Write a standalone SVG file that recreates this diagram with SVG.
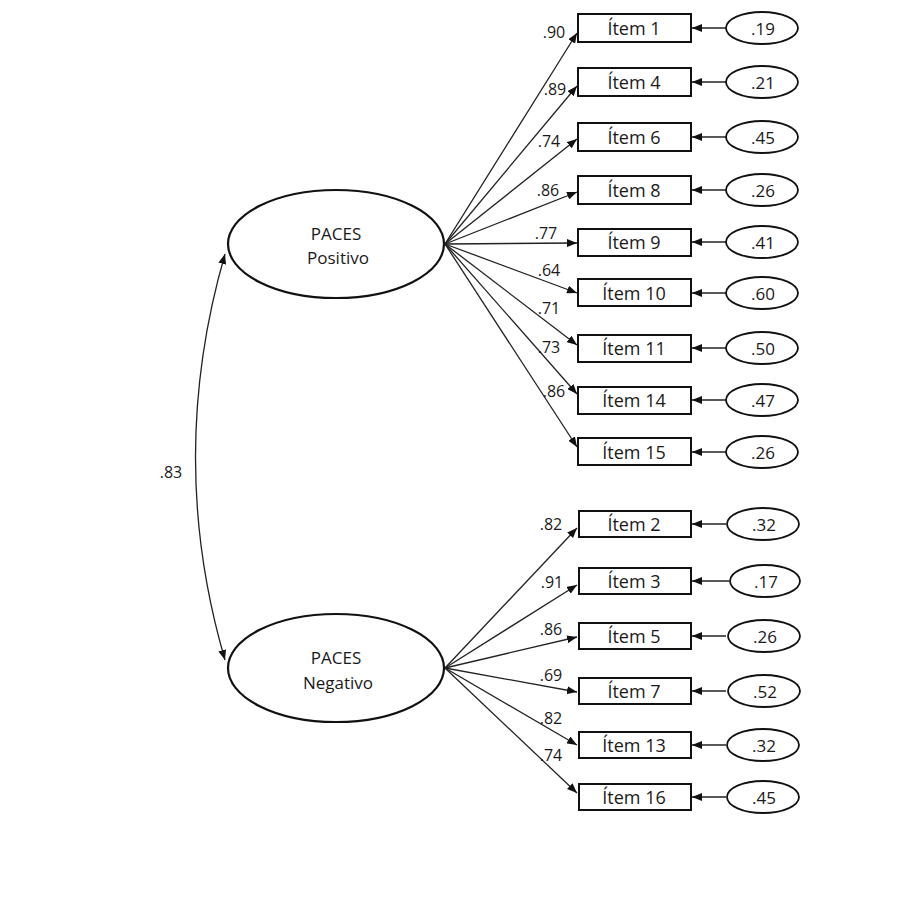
<svg xmlns="http://www.w3.org/2000/svg" width="924" height="916" viewBox="0 0 924 916">
<style>
.lat{fill:#fff;stroke:#111;stroke-width:2.2}
.box{fill:#fff;stroke:#111;stroke-width:2}
.err{fill:#fff;stroke:#111;stroke-width:1.8}
.ln{fill:none;stroke:#222;stroke-width:1.3;marker-end:url(#ah)}
.t{font-family:"Open Sans","Liberation Sans",sans-serif;font-size:17px;fill:#1a1a1a;text-anchor:middle;dominant-baseline:central}
.it{font-size:18px}
.lb{font-family:"Open Sans","Liberation Sans",sans-serif;font-size:16px;fill:#1a1a1a;text-anchor:middle;dominant-baseline:central}
</style>
<defs>
<marker id="ah" viewBox="0 0 10 8" refX="10" refY="4" markerWidth="10" markerHeight="8" orient="auto-start-reverse" markerUnits="userSpaceOnUse"><path d="M0,0 L10,4 L0,8 z" fill="#111"/></marker>
</defs>
<rect width="924" height="916" fill="#fff"/>
<g id="connectors">
<path class="ln" d="M225,254 Q166,458 225,660" marker-start="url(#ah)"/>
<line class="ln" x1="445" y1="244" x2="577" y2="33"/>
<line class="ln" x1="445" y1="244" x2="577" y2="86"/>
<line class="ln" x1="445" y1="244" x2="577" y2="139"/>
<line class="ln" x1="445" y1="244" x2="577" y2="192"/>
<line class="ln" x1="445" y1="244" x2="577" y2="243"/>
<line class="ln" x1="445" y1="244" x2="577" y2="293"/>
<line class="ln" x1="445" y1="244" x2="577" y2="345"/>
<line class="ln" x1="445" y1="244" x2="577" y2="394"/>
<line class="ln" x1="445" y1="244" x2="577" y2="447"/>
<line class="ln" x1="445" y1="668" x2="577" y2="528"/>
<line class="ln" x1="445" y1="668" x2="577" y2="585"/>
<line class="ln" x1="445" y1="668" x2="577" y2="637"/>
<line class="ln" x1="445" y1="668" x2="577" y2="692"/>
<line class="ln" x1="445" y1="668" x2="577" y2="745"/>
<line class="ln" x1="445" y1="668" x2="577" y2="793"/>
<line class="ln" x1="726" y1="28" x2="692" y2="28"/>
<line class="ln" x1="726" y1="82" x2="692" y2="82"/>
<line class="ln" x1="726" y1="137" x2="692" y2="137"/>
<line class="ln" x1="726" y1="190" x2="692" y2="190"/>
<line class="ln" x1="726" y1="242" x2="692" y2="242"/>
<line class="ln" x1="726" y1="293" x2="692" y2="293"/>
<line class="ln" x1="726" y1="348" x2="692" y2="348"/>
<line class="ln" x1="726" y1="400" x2="692" y2="400"/>
<line class="ln" x1="726" y1="452" x2="692" y2="452"/>
<line class="ln" x1="726" y1="524" x2="692" y2="524"/>
<line class="ln" x1="729" y1="581" x2="692" y2="581"/>
<line class="ln" x1="726" y1="636" x2="692" y2="636"/>
<line class="ln" x1="726" y1="691" x2="692" y2="691"/>
<line class="ln" x1="726" y1="745" x2="692" y2="745"/>
<line class="ln" x1="726" y1="797" x2="692" y2="797"/>
<text class="lb" x="554" y="32">.90</text>
<text class="lb" x="555" y="89">.89</text>
<text class="lb" x="549" y="141">.74</text>
<text class="lb" x="548" y="190">.86</text>
<text class="lb" x="546" y="233">.77</text>
<text class="lb" x="549" y="270">.64</text>
<text class="lb" x="549" y="308">.71</text>
<text class="lb" x="549" y="347">.73</text>
<text class="lb" x="554" y="391">.86</text>
<text class="lb" x="551" y="524">.82</text>
<text class="lb" x="552" y="582">.91</text>
<text class="lb" x="551" y="629">.86</text>
<text class="lb" x="551" y="675">.69</text>
<text class="lb" x="551" y="718">.82</text>
<text class="lb" x="551" y="755">.74</text>
<text class="lb" x="171" y="472">.83</text>
</g>
<g id="paces-positivo"><ellipse class="lat" cx="336" cy="244" rx="108" ry="54"/><text class="t" x="336" y="233">PACES</text><text class="t" x="338" y="257">Positivo</text></g>
<g id="paces-negativo"><ellipse class="lat" cx="336" cy="668" rx="108" ry="54"/><text class="t" x="336" y="657">PACES</text><text class="t" x="338" y="682">Negativo</text></g>
<g id="item1"><rect class="box" x="578" y="14" width="113" height="28"/><text class="t it" x="634" y="28">Ítem 1</text></g>
<g id="item4"><rect class="box" x="578" y="68" width="113" height="28"/><text class="t it" x="634" y="82">Ítem 4</text></g>
<g id="item6"><rect class="box" x="578" y="123" width="113" height="28"/><text class="t it" x="634" y="137">Ítem 6</text></g>
<g id="item8"><rect class="box" x="578" y="176" width="113" height="28"/><text class="t it" x="634" y="190">Ítem 8</text></g>
<g id="item9"><rect class="box" x="578" y="229" width="113" height="27"/><text class="t it" x="634" y="242">Ítem 9</text></g>
<g id="item10"><rect class="box" x="578" y="279" width="113" height="27"/><text class="t it" x="634" y="293">Ítem 10</text></g>
<g id="item11"><rect class="box" x="578" y="335" width="113" height="27"/><text class="t it" x="634" y="348">Ítem 11</text></g>
<g id="item14"><rect class="box" x="578" y="387" width="113" height="27"/><text class="t it" x="634" y="400">Ítem 14</text></g>
<g id="item15"><rect class="box" x="578" y="438" width="113" height="27"/><text class="t it" x="634" y="452">Ítem 15</text></g>
<g id="item2"><rect class="box" x="579" y="511" width="112" height="26"/><text class="t it" x="634" y="524">Ítem 2</text></g>
<g id="item3"><rect class="box" x="579" y="568" width="112" height="26"/><text class="t it" x="634" y="581">Ítem 3</text></g>
<g id="item5"><rect class="box" x="579" y="623" width="112" height="26"/><text class="t it" x="634" y="636">Ítem 5</text></g>
<g id="item7"><rect class="box" x="579" y="678" width="112" height="26"/><text class="t it" x="634" y="691">Ítem 7</text></g>
<g id="item13"><rect class="box" x="579" y="732" width="112" height="26"/><text class="t it" x="634" y="745">Ítem 13</text></g>
<g id="item16"><rect class="box" x="579" y="784" width="112" height="26"/><text class="t it" x="634" y="797">Ítem 16</text></g>
<g id="e1"><ellipse class="err" cx="762" cy="28" rx="36" ry="16"/><text class="t" x="763" y="28">.19</text></g>
<g id="e4"><ellipse class="err" cx="762" cy="82" rx="36" ry="16"/><text class="t" x="763" y="82">.21</text></g>
<g id="e6"><ellipse class="err" cx="762" cy="137" rx="36" ry="16"/><text class="t" x="763" y="137">.45</text></g>
<g id="e8"><ellipse class="err" cx="762" cy="190" rx="36" ry="16"/><text class="t" x="763" y="190">.26</text></g>
<g id="e9"><ellipse class="err" cx="762" cy="242" rx="36" ry="16"/><text class="t" x="763" y="242">.41</text></g>
<g id="e10"><ellipse class="err" cx="762" cy="293" rx="36" ry="16"/><text class="t" x="763" y="293">.60</text></g>
<g id="e11"><ellipse class="err" cx="762" cy="348" rx="36" ry="16"/><text class="t" x="763" y="348">.50</text></g>
<g id="e14"><ellipse class="err" cx="762" cy="400" rx="36" ry="16"/><text class="t" x="763" y="400">.47</text></g>
<g id="e15"><ellipse class="err" cx="762" cy="452" rx="36" ry="16"/><text class="t" x="763" y="452">.26</text></g>
<g id="e2"><ellipse class="err" cx="763" cy="524" rx="36" ry="16"/><text class="t" x="764" y="524">.32</text></g>
<g id="e3"><ellipse class="err" cx="765" cy="581" rx="35" ry="16"/><text class="t" x="766" y="581">.17</text></g>
<g id="e5"><ellipse class="err" cx="764" cy="636" rx="36" ry="16"/><text class="t" x="765" y="636">.26</text></g>
<g id="e7"><ellipse class="err" cx="764" cy="691" rx="36" ry="16"/><text class="t" x="765" y="691">.52</text></g>
<g id="e13"><ellipse class="err" cx="763" cy="745" rx="36" ry="16"/><text class="t" x="764" y="745">.32</text></g>
<g id="e16"><ellipse class="err" cx="763" cy="797" rx="36" ry="16"/><text class="t" x="764" y="797">.45</text></g>
</svg>
